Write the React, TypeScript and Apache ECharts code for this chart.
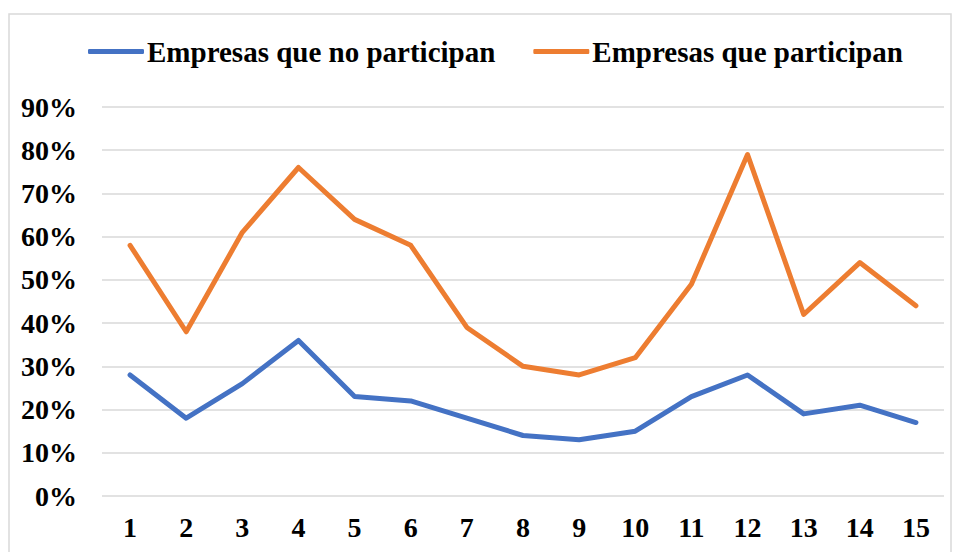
import React, { useEffect, useRef } from "react";
import * as echarts from "echarts";

const categories = ["1", "2", "3", "4", "5", "6", "7", "8", "9", "10", "11", "12", "13", "14", "15"];
const noParticipan = [28, 18, 26, 36, 23, 22, 18, 14, 13, 15, 23, 28, 19, 21, 17];
const participan = [58, 38, 61, 76, 64, 58, 39, 30, 28, 32, 49, 79, 42, 54, 44];
const seriesNames = ["Empresas que no participan", "Empresas que participan"];

const FONT = "'Liberation Serif', 'Times New Roman', serif";

export default function App() {
  const ref = useRef<HTMLDivElement>(null);
  useEffect(() => {
    if (!ref.current) return;
    const chart = echarts.init(ref.current, undefined, { renderer: "svg" });
    chart.setOption({
      animation: false,
      backgroundColor: "#ffffff",
      graphic: [
        {
          type: "rect",
          shape: { x: 9, y: 14, width: 942, height: 600 },
          style: { fill: "none", stroke: "#d9d9d9", lineWidth: 1.5 },
          silent: true,
          z: -1,
        },
      ],
      legend: {
        top: 32,
        left: 83,
        itemWidth: 56,
        itemHeight: 5,
        itemGap: 38,
        icon: "roundRect",
        textStyle: { fontFamily: FONT, fontWeight: "bold", fontSize: 29, color: "#000", padding: [0, 0, 0, -2] },
        data: seriesNames,
      },
      grid: { left: 102, right: 17, top: 107, bottom: 56, containLabel: false },
      xAxis: {
        type: "category",
        data: categories,
        boundaryGap: true,
        axisLine: { show: false },
        axisTick: { show: false },
        axisLabel: { fontFamily: FONT, fontWeight: "bold", fontSize: 28, color: "#000", margin: 17 },
      },
      yAxis: {
        type: "value",
        min: 0,
        max: 90,
        interval: 10,
        axisLine: { show: false },
        axisTick: { show: false },
        splitLine: { lineStyle: { color: "#d9d9d9", width: 1.5 } },
        axisLabel: {
          fontFamily: FONT,
          fontWeight: "bold",
          fontSize: 28,
          color: "#000",
          margin: 25,
          formatter: (v: number) => v + "%",
        },
      },
      series: [
        {
          name: seriesNames[0],
          type: "line",
          data: noParticipan,
          symbol: "none",
          lineStyle: { color: "#4472c4", width: 5, cap: "round", join: "round" },
          itemStyle: { color: "#4472c4" },
        },
        {
          name: seriesNames[1],
          type: "line",
          data: participan,
          symbol: "none",
          lineStyle: { color: "#ed7d31", width: 5, cap: "round", join: "round" },
          itemStyle: { color: "#ed7d31" },
        },
      ],
    });
    return () => chart.dispose();
  }, []);
  return (
    <div style={{ position: "fixed", left: 0, top: 0, width: 961, height: 552, background: "#fff" }}>
      <div ref={ref} style={{ width: 961, height: 552 }} />
    </div>
  );
}
